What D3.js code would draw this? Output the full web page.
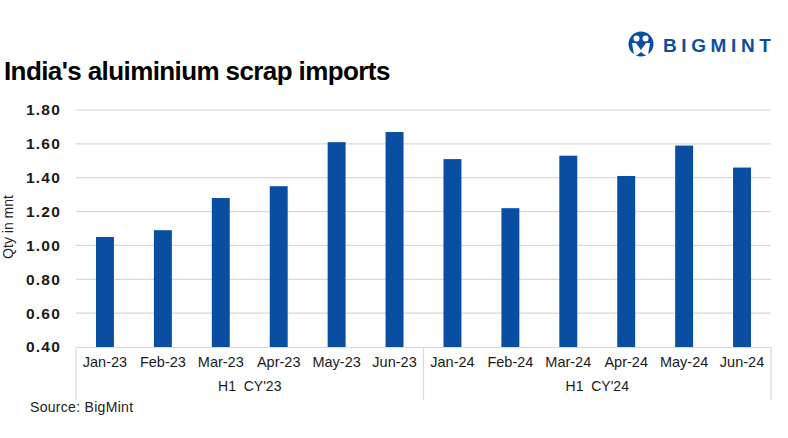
<!DOCTYPE html>
<html><head><meta charset="utf-8">
<script src="https://cdn.jsdelivr.net/npm/d3@7"></script>
<style>body{margin:0;background:#fff}svg{display:block}</style>
</head><body>
<svg id="c" width="788" height="438"></svg>
<script>
const months = ["Jan-23","Feb-23","Mar-23","Apr-23","May-23","Jun-23","Jan-24","Feb-24","Mar-24","Apr-24","May-24","Jun-24"];
const values = [1.05,1.09,1.28,1.35,1.61,1.67,1.51,1.22,1.53,1.41,1.59,1.46];
const groups = ["H1  CY'23","H1  CY'24"];
const groupMonths = [months.slice(0,6), months.slice(6)];
const yTicks = [0.4,0.6,0.8,1.0,1.2,1.4,1.6,1.8];

const svg = d3.select("#c");
const font = "'Liberation Sans', Arial, sans-serif";
const blue = "#0a4ea2";
const L = 76, R = 771, T = 110, B = 347;

const x = d3.scaleBand().domain(months).range([L, R]).paddingInner(0.69).paddingOuter(0.345);
const y = d3.scaleLinear().domain([0.4, 1.8]).range([B, T]);

// Title
svg.append("text").attr("x", 4).attr("y", 80).attr("font-family", font)
  .attr("font-weight", "bold").attr("font-size", 26).attr("letter-spacing", -0.6)
  .attr("fill", "#000").text("India's aluiminium scrap imports");

// Logo
const lg = svg.append("g");
lg.append("circle").attr("cx", 641).attr("cy", 44).attr("r", 12.5).attr("fill", blue);
lg.append("circle").attr("cx", 636.5).attr("cy", 38.5).attr("r", 3).attr("fill", "#fff");
lg.append("circle").attr("cx", 645.5).attr("cy", 38.5).attr("r", 3).attr("fill", "#fff");
lg.append("path").attr("d", "M632,43 L636,43 L641,50 L646,43 L650,43 L648,55 L645,55 L641,52 L637,55 L634,55 Z").attr("fill", "#fff");
svg.append("text").attr("x", 663).attr("y", 52).attr("font-family", font)
  .attr("font-weight", "bold").attr("font-size", 19).attr("letter-spacing", 4.6)
  .attr("fill", blue).text("BIGMINT");

// Gridlines
svg.append("g").selectAll("line").data(yTicks.slice(1)).join("line")
  .attr("x1", L).attr("x2", R).attr("y1", d => y(d)).attr("y2", d => y(d))
  .attr("stroke", "#d9d9d9").attr("stroke-width", 1.2);

// Y axis labels
const yAxis = d3.axisLeft(y).tickValues(yTicks).tickFormat(d3.format(".2f")).tickSize(0).tickPadding(0);
const ya = svg.append("g").attr("transform", `translate(61,0)`).call(yAxis);
ya.select(".domain").remove();
ya.selectAll("text").attr("font-family", font).attr("font-weight", "bold")
  .attr("font-size", 15.5).attr("letter-spacing", 1.2).attr("fill", "#1a1a1a");

// Y axis title
svg.append("text").attr("transform", "translate(13,227) rotate(-90)")
  .attr("text-anchor", "middle").attr("font-family", font).attr("font-size", 14)
  .attr("fill", "#222").text("Qty in mnt");

// Bars
svg.append("g").selectAll("rect").data(months).join("rect")
  .attr("x", d => x(d)).attr("width", x.bandwidth())
  .attr("y", (d,i) => y(values[i])).attr("height", (d,i) => y(0.4) - y(values[i]))
  .attr("fill", blue);

// Category axis
const xa = svg.append("g").attr("transform", `translate(0,${B})`)
  .call(d3.axisBottom(x).tickSize(0).tickPadding(10));
xa.select(".domain").attr("stroke", "#d9d9d9").attr("stroke-width", 1.2);
xa.selectAll("text").attr("font-family", font).attr("font-size", 14.5).attr("fill", "#1a1a1a");

// Group separators
const sepX = [L, (x(months[5]) + x.bandwidth() + x(months[6])) / 2, R];
svg.append("g").selectAll("line").data(sepX).join("line")
  .attr("x1", d => d).attr("x2", d => d).attr("y1", B).attr("y2", 400)
  .attr("stroke", "#d9d9d9").attr("stroke-width", 1.2);

// Group labels
svg.append("g").selectAll("text").data(groups).join("text")
  .attr("x", (d,i) => (x(groupMonths[i][0]) + x(groupMonths[i][5]) + x.bandwidth()) / 2)
  .attr("y", 391).attr("text-anchor", "middle").attr("font-family", font)
  .attr("font-size", 14).attr("fill", "#1a1a1a").attr("xml:space", "preserve")
  .style("white-space", "pre").text(d => d);

// Source
svg.append("text").attr("x", 30).attr("y", 412).attr("font-family", font)
  .attr("font-size", 14).attr("letter-spacing", 0.3).attr("fill", "#222").text("Source: BigMint");
</script>
</body></html>
